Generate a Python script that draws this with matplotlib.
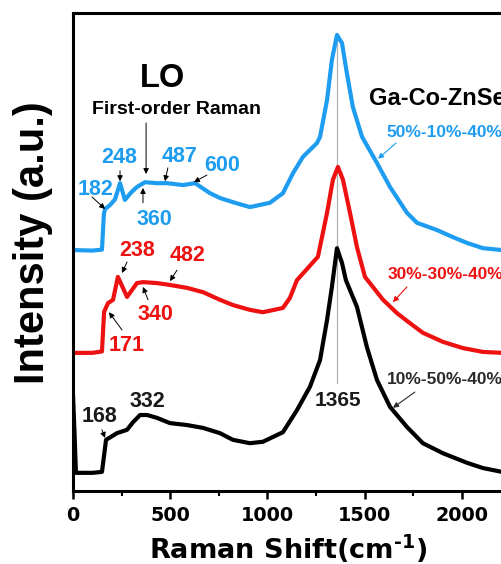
import matplotlib
matplotlib.use("Agg")
import matplotlib.pyplot as plt
import matplotlib.ticker as ticker

plt.rcParams['font.family'] = ['Liberation Sans', 'DejaVu Sans']
plt.rcParams['mathtext.fontset'] = 'dejavusans'
plt.rcParams['mathtext.default'] = 'bf'

# Raman spectra (intensity in arbitrary units, stacked)
x_blue = [0, 100, 149, 159, 165, 190, 216, 242, 267, 300, 329, 370, 432, 484, 566, 628,
          705, 756, 833, 910, 1013, 1080, 1132, 1183, 1255, 1271, 1307, 1332, 1358, 1384,
          1409, 1440, 1487, 1564, 1631, 1718, 1770, 1872, 1955, 2027, 2109, 2207, 2400]
y_blue = [50.4, 50.3, 50.5, 58.0, 59.0, 59.8, 61.0, 64.4, 60.9, 62.5, 63.6, 64.6, 64.4, 64.4, 64.0, 64.4,
          62.3, 61.3, 60.3, 59.4, 60.3, 62.3, 66.5, 69.9, 72.8, 74.1, 81.8, 90.2, 95.4, 93.7,
          87.4, 80.3, 74.1, 68.6, 63.6, 58.2, 56.1, 54.6, 53.1, 51.9, 50.8, 50.4, 50.0]

x_red = [0, 100, 149, 160, 180, 206, 231, 278, 329, 360, 432, 499, 586, 669, 756, 823,
         910, 977, 1080, 1116, 1152, 1260, 1307, 1337, 1363, 1389, 1425, 1461, 1502,
         1595, 1667, 1734, 1800, 1903, 2006, 2109, 2207, 2400]
y_red = [28.9, 28.9, 29.2, 37.5, 39.3, 40.0, 44.8, 40.6, 43.5, 43.7, 43.5, 43.1, 42.5, 41.6, 40.0, 38.9,
         37.9, 37.4, 38.3, 40.4, 44.1, 49.0, 58.2, 65.1, 67.8, 65.1, 58.2, 51.0, 44.8,
         40.0, 37.2, 35.1, 33.1, 31.2, 29.9, 29.1, 28.9, 28.7]

x_black = [0, 8, 15, 100, 149, 170, 226, 278, 309, 345, 381, 432, 499, 586, 669, 756, 823,
           910, 977, 1080, 1152, 1219, 1271, 1307, 1332, 1358, 1384, 1404, 1461, 1512,
           1564, 1631, 1718, 1800, 1903, 2027, 2109, 2207, 2400]
y_black = [20.0, 12.0, 3.8, 3.8, 4.0, 10.7, 12.1, 12.8, 14.4, 15.9, 15.9, 15.3, 14.2, 13.8, 13.2, 12.1, 10.7,
           10.0, 10.3, 12.3, 16.9, 21.8, 27.4, 35.8, 42.7, 50.8, 47.7, 44.1, 38.5, 30.1,
           23.2, 17.6, 13.4, 10.0, 7.9, 5.9, 4.8, 4.0, 3.7]

series_names = ['50%-10%-40%', '30%-30%-40%', '10%-50%-40%']
blue = '#1E9DF0'
red = '#EE1111'
dark = '#1a1a1a'

# peak labels: (text, label x, label y, arrow tail x, tail y, tip x, tip y)
blue_peaks = [('182', 118, 63.1, 98, 61.5, 165, 59.0),
              ('248', 237, 69.7, 242, 67.0, 242, 64.8),
              ('360', 417, 56.9, 360, 60.3, 360, 63.4),
              ('487', 550, 69.9, 488, 67.6, 473, 64.8),
              ('600', 767, 68.0, 689, 66.1, 622, 64.6)]
red_peaks = [('238', 329, 50.4, 278, 47.9, 252, 45.6),
             ('482', 591, 49.2, 535, 46.2, 499, 43.9),
             ('340', 422, 37.0, 386, 40.0, 360, 42.7),
             ('171', 278, 30.5, 252, 33.7, 185, 37.4)]
black_peaks = [('168', 134, 15.5, 149, 12.8, 165, 11.1),
               ('332', 381, 18.8, None, None, None, None)]

fig = plt.figure(figsize=(5.02, 5.64), dpi=100)
ax = fig.add_axes([73/502, 1-491/564, 0.968, 478/564])

ax.plot(x_blue, y_blue, color=blue, lw=3.0, solid_joinstyle='round')
ax.plot(x_red, y_red, color=red, lw=3.0, solid_joinstyle='round')
ax.plot(x_black, y_black, color='black', lw=3.0, solid_joinstyle='round')

ax.set_xlim(0, 2500)
ax.set_ylim(0, 100)

# guide line through the main peak
ax.plot([1358, 1358], [22.6, 95.8], color='#b0b0b0', lw=0.9, zorder=0)
ax.text(1363, 19.0, '1365', ha='center', va='center', fontsize=15, fontweight='bold', color=dark)

def put_peaks(peaks, col):
    for txt, lx, ly, tx, ty, px, py in peaks:
        ax.text(lx, ly, txt, ha='center', va='center', fontsize=15.5,
                fontweight='bold', color=col)
        if tx is not None:
            ax.annotate('', xy=(px, py), xytext=(tx, ty),
                        arrowprops=dict(arrowstyle='-|>', color='black', lw=0.7,
                                        mutation_scale=8, shrinkA=0, shrinkB=0))

put_peaks(blue_peaks, blue)
put_peaks(red_peaks, red)
put_peaks(black_peaks, dark)

ax.text(463, 86.4, 'LO', ha='center', va='center', fontsize=23.5, fontweight='bold')
ax.text(535, 79.9, 'First-order Raman', ha='center', va='center', fontsize=14, fontweight='bold')
ax.annotate('', xy=(376, 66.3), xytext=(376, 77.0),
            arrowprops=dict(arrowstyle='-|>', color='black', lw=0.7,
                            mutation_scale=8, shrinkA=0, shrinkB=0))

ax.text(1522, 82.2, 'Ga-Co-ZnSe', ha='left', va='center', fontsize=17, fontweight='bold')

labels = [(series_names[0], 1615, 74.9, 1662, 72.8, 1569, 69.5, blue),
          (series_names[1], 1620, 45.2, 1718, 42.7, 1646, 39.5, red),
          (series_names[2], 1615, 23.4, 1759, 20.7, 1646, 17.4, '#2a2a2a')]
for txt, lx, ly, tx, ty, px, py, col in labels:
    ax.text(lx, ly, txt, ha='left', va='center', fontsize=12.5, fontweight='bold', color=col)
    ax.annotate('', xy=(px, py), xytext=(tx, ty),
                arrowprops=dict(arrowstyle='-|>', color=col, lw=0.8,
                                mutation_scale=8, shrinkA=0, shrinkB=0))

for s in ax.spines.values():
    s.set_linewidth(2.2)

ax.xaxis.set_major_locator(ticker.MultipleLocator(500))
ax.xaxis.set_minor_locator(ticker.MultipleLocator(250))
ax.tick_params(axis='x', which='major', direction='out', length=6, width=1.8, pad=5)
ax.tick_params(axis='x', which='minor', direction='out', length=3.5, width=1.5)
ax.tick_params(axis='y', left=False, labelleft=False)
for lab in ax.get_xticklabels():
    lab.set_fontfamily('DejaVu Sans')
    lab.set_fontweight('bold')
    lab.set_fontsize(13.8)

ax.set_xlabel('Raman Shift(cm$^{\u2010 1}$)', fontsize=19.5, fontweight='bold', family='DejaVu Sans')
ax.xaxis.label.set_va('center')
ax.xaxis.set_label_coords(0.442, -0.12)
ax.set_ylabel('Intensity (a.u.)', fontsize=30, fontweight='bold')
ax.yaxis.label.set_va('center')
ax.yaxis.set_label_coords(-0.082, 0.519)

fig.savefig('out.png', dpi=100)
